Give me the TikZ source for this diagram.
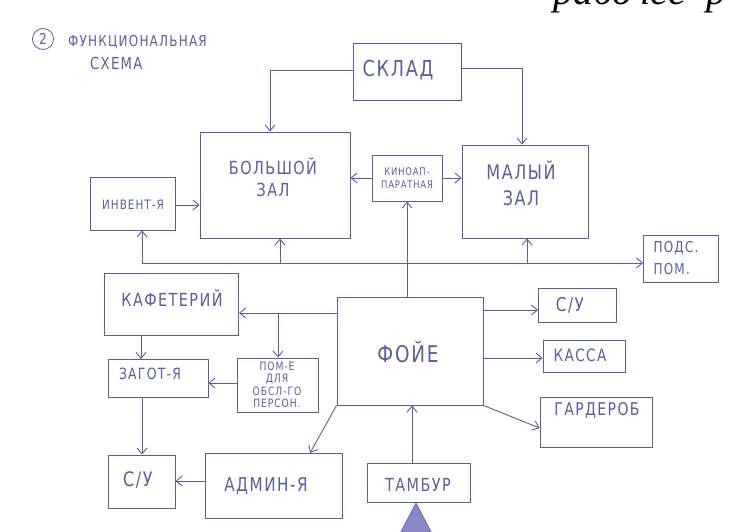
\documentclass[tikz,border=0pt]{standalone}
\usepackage{fontspec}
\setmainfont{Liberation Serif}
\newfontfamily\hand[LetterSpace=8,FakeStretch=0.8]{DejaVu Sans}
\usetikzlibrary{arrows.meta}
\definecolor{ink}{HTML}{5B5E9C}
\definecolor{tri}{HTML}{8C88C8}
\newcommand{\fs}[1]{\fontsize{#1}{#1}\selectfont}
\begin{document}
\begin{tikzpicture}[x=1pt,y=-1pt,
  box/.style={draw=ink, line width=0.9pt, inner sep=0pt},
  lbl/.style={text=ink, font=\hand, align=center, inner sep=0pt},
  arr/.style={draw=ink, line width=0.9pt, -{Straight Barb[length=6pt,width=10pt]}},
  ln/.style={draw=ink, line width=0.9pt}]
\useasboundingbox (0,0) rectangle (730,532);
\fill[white] (0,0) rectangle (730,532);

% title
\node[circle, draw=ink, line width=0.8pt, minimum size=21pt, inner sep=0pt, text=ink, font=\hand\fs{15}] (num) at (43,39) {2};
\node[lbl, anchor=base west, font=\hand\fs{15}] (title1) at (68,47) {ФУНКЦИОНАЛЬНАЯ};
\node[lbl, anchor=base west, font=\hand\fs{16.5}] (title2) at (90,70) {СХЕМА};

% boxes
\node[box, minimum width=108pt, minimum height=57pt] (sklad) at (407,72) {};
\node[box, minimum width=150pt, minimum height=106pt] (bz) at (275,185) {};
\node[box, minimum width=70pt, minimum height=46pt] (kino) at (407,178) {};
\node[box, minimum width=126pt, minimum height=93pt] (mz) at (525,191.5) {};
\node[box, minimum width=85pt, minimum height=53pt] (inv) at (133,203.5) {};
\node[box, minimum width=75pt, minimum height=47pt] (pods) at (681,259) {};
\node[box, minimum width=134pt, minimum height=62pt] (kaf) at (171.5,304) {};
\node[box, minimum width=146pt, minimum height=108pt] (foye) at (410,351) {};
\node[box, minimum width=78pt, minimum height=34pt] (su1) at (577.5,305) {};
\node[box, minimum width=82pt, minimum height=32pt] (kassa) at (584,356) {};
\node[box, minimum width=112pt, minimum height=50pt] (gard) at (596,422) {};
\node[box, minimum width=100pt, minimum height=38pt] (zag) at (158,378.5) {};
\node[box, minimum width=81pt, minimum height=54pt] (pom) at (277.5,385) {};
\node[box, minimum width=67pt, minimum height=53pt] (su2) at (141.5,481.5) {};
\node[box, minimum width=137pt, minimum height=65pt] (adm) at (273.5,485.5) {};
\node[box, minimum width=103pt, minimum height=39pt] (tamb) at (418.5,482.5) {};

% labels
\node[lbl, font=\hand\fs{22}] (sklad-t) at (398,70) {СКЛАД};
\node[lbl, font=\hand\fs{18}] (bz-t) at (273,177) {БОЛЬШОЙ\\[4pt]ЗАЛ};
\node[lbl, font=\hand\fs{10.5}] (kino-t) at (407,178) {КИНОАП-\\[3pt]ПАРАТНАЯ};
\node[lbl, font=\hand\fs{20}] (mz-t) at (521,183) {МАЛЫЙ\\[6pt]ЗАЛ};
\node[lbl, font=\hand\fs{13}] (inv-t) at (133,205) {ИНВЕНТ-Я};
\node[lbl, font=\hand\fs{15}, align=left] (pods-t) at (676,258) {ПОДС.\\[7pt]ПОМ.};
\node[lbl, font=\hand\fs{18}] (kaf-t) at (172,298) {КАФЕТЕРИЙ};
\node[lbl, font=\hand\fs{23}] (foye-t) at (408,352) {ФОЙЕ};
\node[lbl, font=\hand\fs{19}] (su1-t) at (570,305) {С/У};
\node[lbl, font=\hand\fs{17}] (kassa-t) at (580,355) {КАССА};
\node[lbl, font=\hand\fs{17.5}] (gard-t) at (597,410) {ГАРДЕРОБ};
\node[lbl, font=\hand\fs{15.5}] (zag-t) at (150,374) {ЗАГОТ-Я};
\node[lbl, font=\hand\fontsize{11.5}{12.5}\selectfont] (pom-t) at (277,385) {ПОМ-Е\\ДЛЯ\\ОБСЛ-ГО\\ПЕРСОН.};
\node[lbl, font=\hand\fs{20}] (su2-t) at (138,480) {С/У};
\node[lbl, font=\hand\fs{19}] (adm-t) at (266,486) {АДМИН-Я};
\node[lbl, font=\hand\fs{18}] (tamb-t) at (418,485) {ТАМБУР};

% connectors
\coordinate (skL) at (270,70);
\coordinate (skR) at (522,68);
\draw[arr] (sklad.west |- skL) -- (skL) -- (skL |- bz.north);
\draw[arr] (sklad.east |- skR) -- (skR) -- (skR |- mz.north);
\draw[arr] (inv.east |- 0,205) -- (bz.west |- 0,205);
\draw[arr] (kino.west) -- (bz.east |- kino.west);
\draw[arr] (kino.east) -- (mz.west |- kino.east);

% distribution line
\coordinate (b1) at (142,263);
\coordinate (b2) at (280,263);
\coordinate (b3) at (527,263);
\draw[arr] (b1) -- (pods.west |- b1);
\draw[arr] (b1) -- (b1 |- inv.south);
\draw[arr] (b2) -- (b2 |- bz.south);
\draw[arr] (b3) -- (b3 |- mz.south);
\draw[arr] (kino.south |- foye.north) -- (kino.south);

% foyer left side
\coordinate (kj) at (278,313);
\draw[arr] (foye.west |- kj) -- (kaf.east |- kj);
\draw[arr] (kj) -- (kj |- pom.north);
\coordinate (kz) at (141,0);
\draw[arr] (kz |- kaf.south) -- (kz |- zag.north);
\draw[arr] (pom.west |- 0,383) -- (zag.east |- 0,383);
\coordinate (zs) at (142,0);
\draw[arr] (zs |- zag.south) -- (zs |- su2.north);
\draw[arr] (adm.west |- 0,481) -- (su2.east |- 0,481);
\draw[arr] (foye.south west) -- (310,453);
\draw[arr] (tamb.north -| 412,0) -- (foye.south -| 412,0);

% foyer right side
\draw[arr] (foye.east |- 0,310) -- (su1.west |- 0,310);
\draw[arr] (foye.east |- 0,358) -- (kassa.west |- 0,358);
\draw[arr] (foye.south east) -- (gard.west |- 0,428);

% clipped bits at the borders
\begin{scope}
\clip (0,0) rectangle (730,532);
\fill[tri, draw=ink, line width=0.6pt] (416,503) -- (394,545) -- (438,545) -- cycle;
\node[anchor=west, inner sep=0pt, text height=0pt, text depth=0pt, font=\itshape\fs{40}] (topnote) at (553,5) {рабочее\ \ р};
\end{scope}
\end{tikzpicture}
\end{document}
